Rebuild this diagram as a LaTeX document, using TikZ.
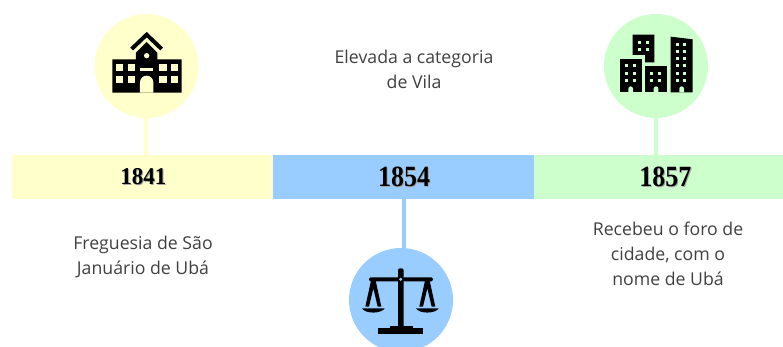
\documentclass[tikz,border=0pt]{standalone}
\usepackage{fontspec}
\usepackage{graphicx}
\setmainfont{Open Sans}
\newfontfamily\yearfont{Liberation Serif}
\definecolor{pyellow}{HTML}{FFFFCC}
\definecolor{pblue}{HTML}{99CCFF}
\definecolor{pgreen}{HTML}{CCFFCC}
\definecolor{txt}{HTML}{404040}
\newcommand{\shadowyear}[3]{\scalebox{1}[#3]{\yearfont\bfseries\fontsize{#2}{#2}\selectfont\rlap{\hspace{1pt}\raisebox{-1pt}{\textcolor{black!35}{#1}}}#1}}
\tikzset{
  x=1pt,y=-1pt,
  band/.style={rectangle,inner sep=0pt,minimum height=44pt,anchor=north west,text=black},
  disc/.style={circle,inner sep=0pt,minimum size=104pt},
  stem/.style={line width=3.7pt},
  caption/.style={align=center,text=txt,font=\fontsize{17.7pt}{25pt}\selectfont},
  icon/.style={x=0.3333pt,y=-0.3333pt},
}
\begin{document}
\begin{tikzpicture}
\useasboundingbox (0,0) rectangle (783,347);
\clip (0,0) rectangle (783,347);
% bands and discs
\node[band,fill=pyellow,minimum width=260.5pt] (b1) at (12,155) {\hspace*{2pt}\shadowyear{1841}{23pt}{1.05}};
\node[band,fill=pblue,minimum width=261pt] (b2) at (272.5,155) {\hspace*{2pt}\shadowyear{1854}{26pt}{1.13}};
\node[band,fill=pgreen,minimum width=249.5pt] (b3) at (533.5,155) {\hspace*{14pt}\shadowyear{1857}{26pt}{1.13}};
\node[disc,fill=pyellow] (c1) at (146.5,66) {};
\node[disc,fill=pblue] (c2) at (401,300) {};
\node[disc,fill=pgreen] (c3) at (656,66) {};
\coordinate (s1) at (145.8,155);
\coordinate (s2) at (403.8,199);
\coordinate (s3) at (656.3,155);
\draw[stem,pyellow] (s1) -- (s1 |- c1.south);
\draw[stem,pblue] (s2) -- (s2 |- c2.north);
\draw[stem,pgreen] (s3) -- (s3 |- c3.south);
% school
\begin{scope}[shift={(80,0)},icon]
  \draw[black,line width=4pt,miter limit=10] (155,147) -- (200,104) -- (245,147);
  \fill[black] (168,158) -- (200,126) -- (232,158) -- (232,178) -- (305,178) -- (305,278) -- (97,278) -- (97,178) -- (168,178) -- cycle;
  \fill[pyellow] (200,167) circle[radius=8];
  \foreach \xa/\xb in {107/130,143/165,236/260,272/294}{
    \foreach \ya/\yb in {192/213,228/250}{
      \fill[pyellow] (\xa,\ya) rectangle (\xb,\yb);
    }
  }
  \fill[pyellow] (180,204) rectangle (220,213);
  \fill[pyellow] (180,278) -- (180,247) arc[start angle=180,end angle=360,radius=20] -- (220,278) -- cycle;
\end{scope}
% scale
\begin{scope}[shift={(340,240)},icon]
  \fill[black] (115,265) rectangle (250,282);
  \fill[black] (150,258) rectangle (218,270);
  \fill[black,rounded corners=2pt] (174,85) -- (191,85) -- (191,265) -- (174,265) -- cycle;
  \fill[black,rounded corners=1.5pt] (87,112) rectangle (279,124);
  \fill[pblue] (182,118) circle[radius=5];
  \foreach \cx in {100,262}{
    \begin{scope}[shift={(\cx,0)}]
      \fill[black] (-7,122) -- (7,122) -- (24,200) -- (13,200) -- (0,145) -- (-13,200) -- (-24,200) -- cycle;
      \fill[black] (-34,205) -- (34,205) .. controls (24,222) and (-24,222) .. (-34,205) -- cycle;
    \end{scope}
  }
\end{scope}
% city
\begin{scope}[shift={(595,0)},icon]
  \fill[black] (113,104) -- (178,104) -- (178,187) -- (150,187) -- (150,165) -- (113,165) -- cycle;
  \fill[black] (74,176) rectangle (140,277);
  \fill[black] (150,199) rectangle (216,277);
  \fill[black] (227,110) -- (293,118) -- (293,277) -- (227,277) -- cycle;
  \foreach \wx/\wy in {128/122,152/122,128/145,152/145,
      90/193,114/193,90/216,114/216,90/238,114/238,
      166/216,190/216,166/238,190/238,
      243/130,265/130,243/150,265/150,243/170,265/170,243/192,265/192,243/215,265/215,243/238,265/238}{
    \fill[pgreen] (\wx,\wy) rectangle ++(9,9);
  }
  \foreach \dx in {100,176,253}{
    \fill[pgreen] (\dx,277) -- (\dx,266) arc[start angle=180,end angle=360,radius=7] -- (\dx+14,277) -- cycle;
  }
\end{scope}
% captions
\node[caption] (t2) at (414,69.5) {Elevada a categoria\\de Vila};
\node[caption] (t1) at (143,257) {Freguesia de São\\Januário de Ubá};
\node[caption] (t3) at (668,253.5) {Recebeu o foro de\\cidade, com o\\nome de Ubá};
\end{tikzpicture}
\end{document}
